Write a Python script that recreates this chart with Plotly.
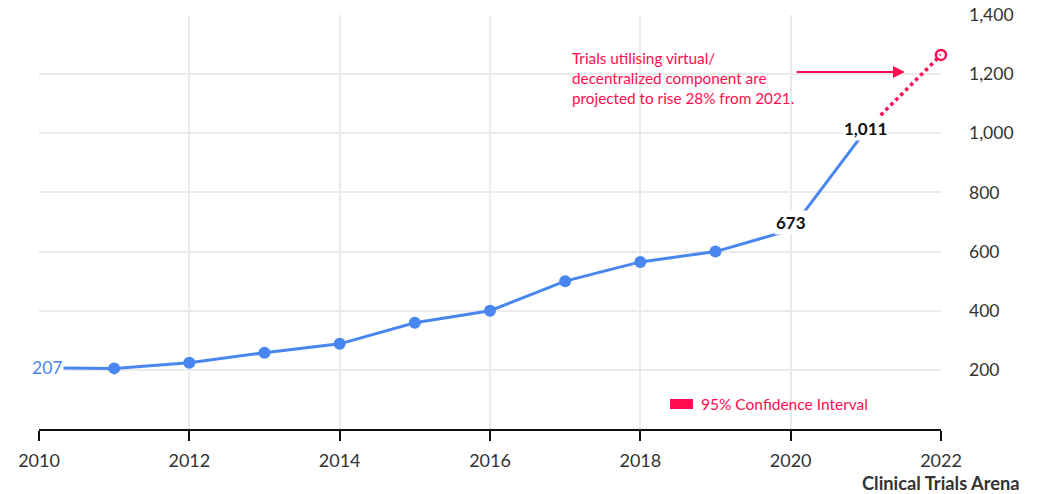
import plotly.graph_objects as go

years = [2010, 2011, 2012, 2013, 2014, 2015, 2016, 2017, 2018, 2019, 2020, 2021]
trials = [207, 205, 224, 258, 288, 359, 400, 500, 565, 600, 673, 1011]
proj_years = [2021, 2022]
proj_values = [1011, 1265]

x_ticks = [2010, 2012, 2014, 2016, 2018, 2020, 2022]
y_ticks = [200, 400, 600, 800, 1000, 1200, 1400]
y_tick_labels = ["200", "400", "600", "800", "1,000", "1,200", "1,400"]

BLUE = "#4a86f0"
RED = "#ff0d4f"
FONT = "Lato"

fig = go.Figure()

fig.add_trace(go.Scatter(
    x=proj_years, y=proj_values, mode="lines",
    line=dict(color=RED, width=3.5, dash="dot"), hoverinfo="skip", showlegend=False))
fig.add_trace(go.Scatter(
    x=[proj_years[-1]], y=[proj_values[-1]], mode="markers",
    marker=dict(symbol="circle-open", size=10, color=RED, line=dict(width=2.5, color=RED)),
    cliponaxis=False, showlegend=False))
fig.add_trace(go.Scatter(
    x=years, y=trials, mode="lines",
    line=dict(color=BLUE, width=3), showlegend=False))
fig.add_trace(go.Scatter(
    x=years[1:-2], y=trials[1:-2], mode="markers",
    marker=dict(color=BLUE, size=12), showlegend=False))

# value labels
fig.add_annotation(x=years[0], y=trials[0], text=str(trials[0]), showarrow=False,
                   font=dict(family=FONT, size=17.5, color=BLUE), bgcolor="white", xshift=8)
fig.add_annotation(x=years[-2], y=trials[-2], text=f"<b>{trials[-2]:,}</b>", showarrow=False,
                   font=dict(family=FONT, size=17, color="#111"), bgcolor="white", yshift=7)
fig.add_annotation(x=years[-1], y=trials[-1], text=f"<b>{trials[-1]:,}</b>", showarrow=False,
                   font=dict(family=FONT, size=17, color="#111"), bgcolor="white", yshift=2)

# callout
fig.add_annotation(x=2017.07, y=1292, xanchor="left", yanchor="top", align="left",
                   text="Trials utilising virtual/<br>decentralized component are<br>projected to rise 28% from 2021.",
                   showarrow=False, font=dict(family=FONT, size=15.3, color=RED))
fig.add_annotation(x=2021.52, y=1207, ax=2020.06, ay=1207, axref="x", ayref="y",
                   xref="x", yref="y", text="", showarrow=True,
                   arrowhead=2, arrowsize=1.2, arrowwidth=2, arrowcolor=RED)

# legend
fig.add_shape(type="rect", xref="paper", yref="paper", x0=0.6996, x1=0.725, y0=0.0483, y1=0.0725,
              fillcolor=RED, line=dict(width=0))
fig.add_annotation(xref="paper", yref="paper", x=0.7317, y=0.0604, xanchor="left", yanchor="middle",
                   text="95% Confidence Interval", showarrow=False,
                   font=dict(family=FONT, size=15.5, color=RED))

# source
fig.add_annotation(xref="paper", yref="paper", x=1.0898, y=-0.1304, xanchor="right", yanchor="middle",
                   text="<b>Clinical Trials Arena</b>", showarrow=False,
                   font=dict(family=FONT, size=18.3, color="#333"))

fig.update_layout(
    width=1050, height=494,
    margin=dict(l=39, r=109, t=15, b=65),
    plot_bgcolor="white", paper_bgcolor="white",
    font=dict(family=FONT, color="#333"),
    xaxis=dict(range=[2010, 2022], tickvals=x_ticks, showgrid=True, gridcolor="#ebebeb", gridwidth=2,
               zeroline=False, showline=True, linecolor="#111", linewidth=2, automargin=False,
               ticks="outside", ticklen=10, tickwidth=2, tickcolor="#111", ticklabelstandoff=4,
               tickfont=dict(family=FONT, size=18, color="#333")),
    yaxis=dict(range=[0, 1400], side="right", tickvals=y_ticks, ticktext=y_tick_labels,
               showgrid=True, gridcolor="#ebebeb", gridwidth=2, zeroline=False, showline=False,
               ticks="", ticklabelstandoff=27, automargin=False,
               tickfont=dict(family=FONT, size=17.5, color="#333")),
)

fig.write_html("out.html", config={"displayModeBar": False},
               post_script="document.body.style.margin='0';document.body.style.overflow='hidden';")
